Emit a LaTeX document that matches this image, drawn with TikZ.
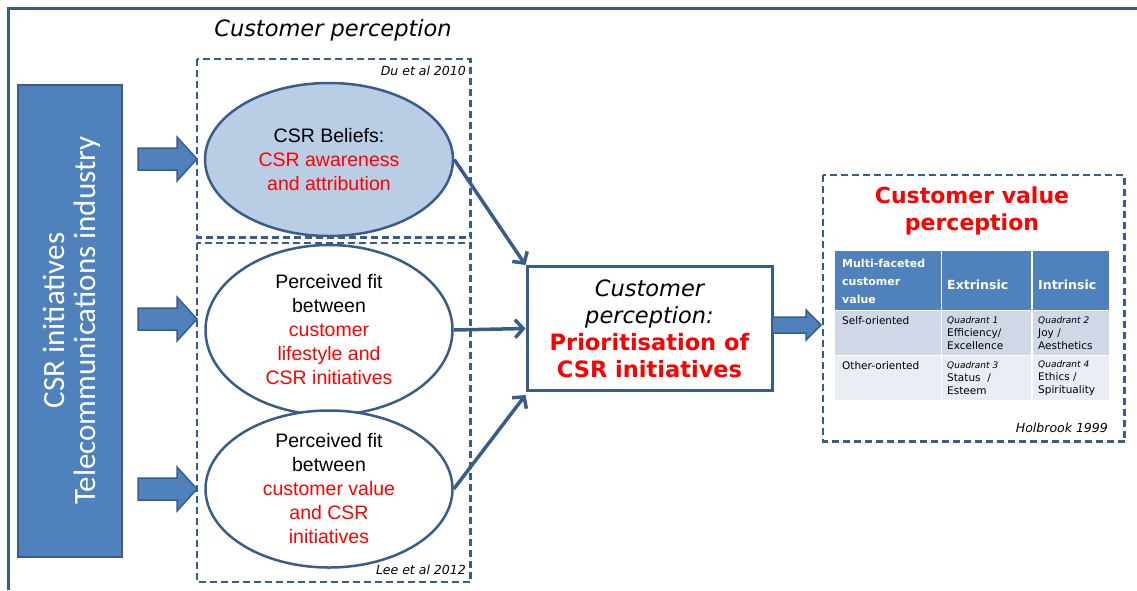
\documentclass[tikz,border=0pt]{standalone}
\usepackage{fontspec}
\setmainfont{DejaVu Sans}
\newfontfamily\arialf{Liberation Sans}
\newfontfamily\calf{Carlito}
\usetikzlibrary{shapes.geometric,arrows.meta}
\definecolor{dblue}{HTML}{385D8A}
\definecolor{mblue}{HTML}{4F81BD}
\definecolor{lblue}{HTML}{B9CDE5}
\definecolor{rowa}{HTML}{D0D8E8}
\definecolor{rowb}{HTML}{E9EDF4}
\definecolor{cred}{HTML}{FF0000}
\newcommand{\myblockarrow}[6]{%
  \draw[blockarr] (#1,#3-#4) -- (#2-#6,#3-#4) -- (#2-#6,#3-#5) -- (#2,#3) -- (#2-#6,#3+#5) -- (#2-#6,#3+#4) -- (#1,#3+#4) -- cycle;}
\begin{document}
\begin{tikzpicture}[x=1pt,y=-1pt,
  dashbox/.style={draw=dblue, line width=2.5pt, dash pattern=on 7pt off 4pt},
  ell/.style={ellipse, draw=dblue, line width=2.5pt, inner sep=0pt, align=center, font=\arialf\fontsize{19.5}{24}\selectfont},
  blockarr/.style={draw=dblue, fill=mblue, line width=1.5pt, line join=miter},
  conn/.style={draw=dblue, line width=3.5pt, -{Straight Barb[length=8pt,width=18pt]}},
  reftext/.style={font=\itshape\fontsize{12.5}{14}\selectfont, anchor=east, inner sep=0pt},
  cell/.style={anchor=west, inner sep=0pt, align=left, font=\fontsize{10.5}{13}\selectfont},
]
\useasboundingbox (0,0) rectangle (1137,590);
% outer frame
\draw[dblue, line width=3pt] (8.5,590) -- (8.5,8.5) -- (1137,8.5);

% left bar
\node[draw=dblue, fill=mblue, line width=2pt, minimum width=104pt, minimum height=472pt, inner sep=0pt] (bar) at (70,320.5) {};
\node[rotate=90, text=white, align=center, font=\calf\fontsize{31}{31}\selectfont] (bartext) at (72,320.5) {CSR initiatives\\Telecommunications industry};

% title
\node[font=\itshape\fontsize{22.5}{26}\selectfont] (title) at (333,30) {Customer perception};

% dashed boxes
\draw[dashbox] (197,59) rectangle (470.5,237.5);
\draw[dashbox] (197,243) rectangle (470.5,582);
\node[reftext] (du) at (466,71) {Du et al 2010};
\node[reftext] (lee) at (466,570) {Lee et al 2012};

% block arrows left
\myblockarrow{138}{197}{159}{11}{22}{20}
\myblockarrow{138}{197}{319}{11}{22}{20}
\myblockarrow{138}{197}{489}{11}{22}{20}

% ellipses
\node[ell, fill=lblue, minimum width=248pt, minimum height=153pt] (e1) at (329,159.5) {CSR Beliefs:\\\textcolor{cred}{CSR awareness}\\\textcolor{cred}{and attribution}};
\node[ell, fill=white, minimum width=247pt, minimum height=170pt] (e2) at (329,330) {Perceived fit\\between\\\textcolor{cred}{customer}\\\textcolor{cred}{lifestyle and}\\\textcolor{cred}{CSR initiatives}};
\node[ell, fill=white, minimum width=247pt, minimum height=157pt] (e3) at (329,489) {Perceived fit\\between\\\textcolor{cred}{customer value}\\\textcolor{cred}{and CSR}\\\textcolor{cred}{initiatives}};

% central box
\node[draw=dblue, fill=white, line width=3pt, minimum width=245pt, minimum height=124pt, inner sep=0pt, align=center, font=\fontsize{22.5}{27}\selectfont] (cp) at (649.5,328.5) {\itshape Customer\\\itshape perception:\\\textcolor{cred}{\bfseries Prioritisation of}\\\textcolor{cred}{\bfseries CSR initiatives}};

% connectors
\draw[conn] (e1.east) -- (cp.north west);
\draw[conn] (e2.east) -- (cp.west);
\draw[conn] (e3.east) -- ([yshift=-3pt]cp.south west);

% right block arrow
\myblockarrow{772}{821}{325}{8}{15}{15}

% right dashed box
\draw[dashbox] (823,175) rectangle (1124.5,441.5);
\node[align=center, text=cred, font=\bfseries\fontsize{22}{27}\selectfont] (cvp) at (972,211) {Customer value\\perception};

% table
\fill[mblue] (835,251) rectangle (1109,309.5);
\fill[rowa] (835,310.5) rectangle (1109,355);
\fill[rowb] (835,356) rectangle (1109,400);
\draw[white, line width=1.5pt] (941.5,251) -- (941.5,400);
\draw[white, line width=1.5pt] (1032,251) -- (1032,400);
\node[cell, text=white, font=\bfseries\fontsize{11}{18}\selectfont] (h1) at (842,281) {Multi-faceted\\customer\\value};
\node[cell, text=white, font=\bfseries\fontsize{12.5}{15}\selectfont] (h2) at (947,285) {Extrinsic};
\node[cell, text=white, font=\bfseries\fontsize{12.5}{15}\selectfont] (h3) at (1038,285) {Intrinsic};
\node[cell] (r1) at (842,321) {Self-oriented};
\node[cell] (r2) at (842,366) {Other-oriented};
\node[cell] (q1) at (947,333) {{\itshape\fontsize{9}{13}\selectfont Quadrant 1}\\Efficiency/\\Excellence};
\node[cell] (q2) at (1038,333) {{\itshape\fontsize{9}{13}\selectfont Quadrant 2}\\Joy /\\Aesthetics};
\node[cell] (q3) at (947,378) {{\itshape\fontsize{9}{13}\selectfont Quadrant 3}\\Status\ \ /\\Esteem};
\node[cell] (q4) at (1038,378) {{\itshape\fontsize{9}{13}\selectfont Quadrant 4}\\Ethics /\\Spirituality};
\node[reftext] (hol) at (1108,428) {Holbrook 1999};
\end{tikzpicture}
\end{document}
